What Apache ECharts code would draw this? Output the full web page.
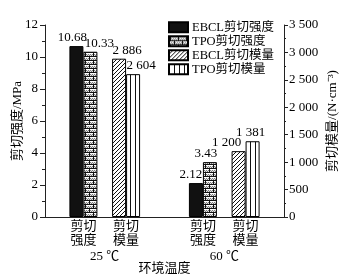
<!DOCTYPE html>
<html><head><meta charset="utf-8">
<script src="https://cdn.jsdelivr.net/npm/echarts@6/dist/echarts.min.js"></script>
<style>html,body{margin:0;padding:0;background:#fff}#c{width:361px;height:280px}</style>
</head><body><div id="c"></div>
<script>
// ---- data ----
const groups = ['25 ℃', '60 ℃'];
const measures = ['剪切\n强度', '剪切\n模量'];
const seriesNames = ['EBCL剪切强度', 'TPO剪切强度', 'EBCL剪切模量', 'TPO剪切模量'];
const ebclStrength = [10.68, 2.12];   // MPa
const tpoStrength = [10.33, 3.43];    // MPa
const ebclModulus = [2886, 1200];     // N·cm^-3
const tpoModulus = [2604, 1381];      // N·cm^-3
const leftAxis = { min: 0, max: 12, interval: 2 };
const rightAxis = { min: 0, max: 3500, interval: 500 };

// ---- layout helpers (not data) ----
const SLOTS = 28;
const strengthSlot = [4, 18];
const modulusSlot = [9, 23];
const cats = Array.from({ length: SLOTS }, () => '');
groups.forEach((g, i) => { cats[strengthSlot[i]] = measures[0]; cats[modulusSlot[i]] = measures[1]; });

const FONT = '"Liberation Serif", "Noto Sans CJK SC", serif';
const fmtNum = v => String(v).replace(/\B(?=(\d{3})+(?!\d))/g, ' ');

function place(values, slots, offsets) {
  const arr = Array.from({ length: SLOTS }, () => '-');
  values.forEach((v, i) => { arr[slots[i]] = { value: v, label: { offset: [offsets[i], 0] } }; });
  return arr;
}

function tile(w, h, draw) {
  const c = document.createElement('canvas'); c.width = w; c.height = h;
  const g = c.getContext('2d'); draw(g); return { image: c, repeat: 'repeat' };
}
const brick = tile(8, 8, g => {
  g.fillStyle = '#e6e6e6'; g.fillRect(0, 0, 8, 8);
  g.fillStyle = '#7c7c7c';
  for (let y = 0; y < 8; y++) for (let x = 0; x < 8; x++) if ((x + y) % 2 === 0) g.fillRect(x, y, 1, 1);
  g.fillStyle = '#ffffff'; g.fillRect(0, 1, 8, 1); g.fillRect(0, 5, 8, 1);
  g.fillStyle = '#111'; g.fillRect(0, 0, 8, 1); g.fillRect(0, 4, 8, 1);
  g.fillRect(1, 1, 1, 3); g.fillRect(5, 5, 1, 3);
});
const hatch = tile(4, 4, g => {
  g.fillStyle = '#fff'; g.fillRect(0, 0, 4, 4);
  g.fillStyle = '#111';
  g.fillRect(3, 0, 1, 1); g.fillRect(2, 1, 1, 1); g.fillRect(1, 2, 1, 1); g.fillRect(0, 3, 1, 1);
});
const vlines = tile(5, 4, g => {
  g.fillStyle = '#fff'; g.fillRect(0, 0, 5, 4);
  g.fillStyle = '#111'; g.fillRect(0, 0, 1, 4);
});

const labelBase = { show: true, position: 'top', distance: 2, color: '#000', fontFamily: FONT, fontSize: 13 };
const barBase = { type: 'bar', barWidth: 14, barGap: '0%' };
const border = { borderColor: '#000', borderWidth: 1 };

const chart = echarts.init(document.getElementById('c'), null, { renderer: 'canvas' });
chart.setOption({
  animation: false,
  backgroundColor: '#fff',
  textStyle: { fontFamily: FONT, color: '#000' },
  grid: { left: 45, right: 77, top: 25, bottom: 63, containLabel: false, outerBoundsMode: 'none' },
  legend: {
    orient: 'vertical', left: 168, top: 21, padding: 0,
    itemWidth: 19, itemHeight: 10, itemGap: 1.5, icon: 'rect',
    textStyle: { fontFamily: FONT, fontSize: 12.5, color: '#000', padding: [0, 0, 0, -1] },
    data: seriesNames
  },
  xAxis: [
    { type: 'category', data: cats, gridIndex: 0, position: 'bottom',
      axisLine: { show: true, lineStyle: { color: '#222', width: 1 } },
      axisTick: { show: false }, splitLine: { show: false },
      axisLabel: { interval: 0, margin: 3, fontFamily: FONT, fontSize: 13, lineHeight: 14, color: '#000' } },
    { type: 'category', data: cats, gridIndex: 0, show: false },
    { type: 'category', data: groups, gridIndex: 0, position: 'bottom', offset: 31,
      axisLine: { show: false }, axisTick: { show: false }, splitLine: { show: false },
      axisLabel: { margin: 2, fontFamily: FONT, fontSize: 13, color: '#000' },
      name: '环境温度', nameLocation: 'middle', nameGap: 14, nameMoveOverlap: false,
      nameTextStyle: { fontFamily: FONT, fontSize: 13, color: '#000' } }
  ],
  yAxis: [
    { type: 'value', position: 'left', min: leftAxis.min, max: leftAxis.max, interval: leftAxis.interval,
      axisLine: { show: true, lineStyle: { color: '#222', width: 1 } },
      axisTick: { show: true, length: 5, lineStyle: { color: '#222' } },
      minorTick: { show: true, splitNumber: 2, length: 3, lineStyle: { color: '#222' } },
      splitLine: { show: false },
      axisLabel: { margin: 7, fontFamily: FONT, fontSize: 13, color: '#000' },
      name: '剪切强度/MPa', nameLocation: 'middle', nameGap: 21, nameMoveOverlap: false,
      nameTextStyle: { fontFamily: FONT, fontSize: 13, color: '#000' } },
    { type: 'value', position: 'right', min: rightAxis.min, max: rightAxis.max, interval: rightAxis.interval,
      axisLine: { show: true, lineStyle: { color: '#222', width: 1 } },
      axisTick: { show: true, length: 4, lineStyle: { color: '#222' } },
      minorTick: { show: true, splitNumber: 2, length: 2, lineStyle: { color: '#222' } },
      splitLine: { show: false },
      axisLabel: { margin: 5, fontFamily: FONT, fontSize: 13, color: '#000', formatter: fmtNum },
      name: '剪切模量/(N·cm⁻³)', nameLocation: 'middle', nameGap: 42, nameMoveOverlap: false,
      nameTextStyle: { fontFamily: FONT, fontSize: 13, color: '#000' } }
  ],
  series: [
    Object.assign({}, barBase, { name: seriesNames[0], xAxisIndex: 0, yAxisIndex: 0,
      itemStyle: Object.assign({ color: '#111' }, border), label: labelBase,
      data: place(ebclStrength, strengthSlot, [-4, -5]) }),
    Object.assign({}, barBase, { name: seriesNames[1], xAxisIndex: 0, yAxisIndex: 0,
      itemStyle: Object.assign({ color: brick }, border), label: labelBase,
      data: place(tpoStrength, strengthSlot, [9, -4]) }),
    Object.assign({}, barBase, { name: seriesNames[2], xAxisIndex: 1, yAxisIndex: 1,
      itemStyle: Object.assign({ color: hatch }, border), label: Object.assign({ formatter: p => fmtNum(p.value) }, labelBase),
      data: place(ebclModulus, modulusSlot, [8, -12]) }),
    Object.assign({}, barBase, { name: seriesNames[3], xAxisIndex: 1, yAxisIndex: 1,
      itemStyle: Object.assign({ color: vlines }, border), label: Object.assign({ formatter: p => fmtNum(p.value) }, labelBase),
      data: place(tpoModulus, modulusSlot, [8, -2]) })
  ]
});
</script>
</body></html>
